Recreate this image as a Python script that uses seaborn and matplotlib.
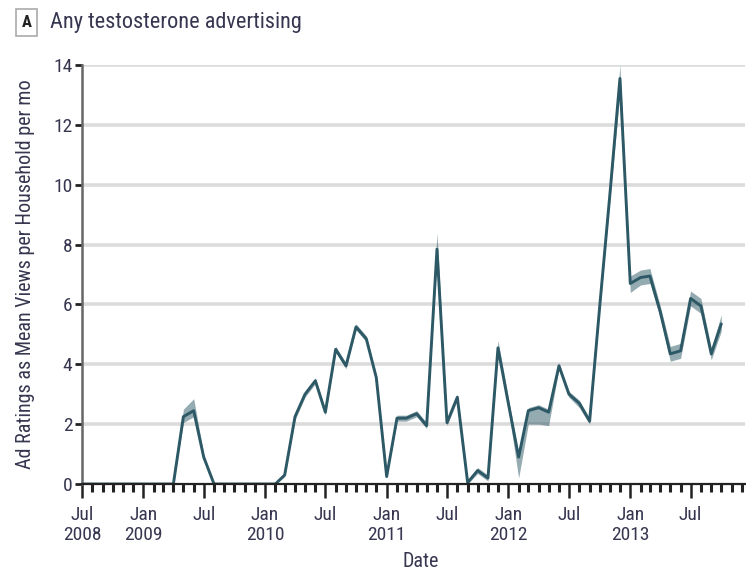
import numpy as np
import pandas as pd
import matplotlib
matplotlib.use("Agg")
import matplotlib.pyplot as plt
import matplotlib.dates as mdates
from matplotlib import font_manager
import seaborn as sns

# ---- data (monthly, Jul 2008 .. Oct 2013) ----
mean_views = [0, 0, 0, 0, 0, 0, 0, 0, 0, 0,
              2.25, 2.45, 0.9, 0, 0, 0, 0, 0, 0, 0,
              0.3, 2.25, 3.0, 3.45, 2.4, 4.5, 3.95, 5.25, 4.85, 3.55,
              0.25, 2.2, 2.2, 2.35, 1.95, 7.85, 2.05, 2.9, 0.05, 0.45,
              0.2, 4.55, 2.7, 0.9, 2.45, 2.55, 2.4, 3.95, 3.0, 2.7,
              2.1, 5.9, 9.7, 13.55, 6.7, 6.9, 6.95, 5.75, 4.35, 4.45,
              6.2, 5.95, 4.35, 5.35]
ci_lower = [0, 0, 0, 0, 0, 0, 0, 0, 0, 0,
            2.05, 2.25, 0.8, 0, 0, 0, 0, 0, 0, 0,
            0.25, 2.15, 2.9, 3.35, 2.3, 4.4, 3.85, 5.15, 4.75, 3.45,
            0.2, 2.1, 2.1, 2.25, 1.85, 7.55, 1.95, 2.8, 0.0, 0.35,
            0.1, 4.35, 2.5, 0.2, 2.0, 2.0, 1.95, 3.85, 2.9, 2.55,
            2.0, 5.75, 9.5, 13.1, 6.4, 6.65, 6.7, 5.55, 4.1, 4.2,
            5.95, 5.7, 4.15, 5.1]
ci_upper = [0, 0, 0, 0, 0, 0, 0, 0, 0, 0,
            2.5, 2.85, 1.0, 0, 0, 0, 0, 0, 0, 0,
            0.35, 2.35, 3.1, 3.55, 2.5, 4.6, 4.05, 5.35, 4.95, 3.65,
            0.3, 2.3, 2.3, 2.45, 2.05, 8.4, 2.15, 3.0, 0.1, 0.55,
            0.3, 4.8, 2.9, 1.0, 2.55, 2.65, 2.5, 4.05, 3.1, 2.8,
            2.2, 6.05, 9.9, 14.0, 6.95, 7.15, 7.2, 5.95, 4.6, 4.7,
            6.45, 6.2, 4.55, 5.65]
dates = pd.date_range("2008-07-01", periods=len(mean_views), freq="MS")
y_ticks = [0, 2, 4, 6, 8, 10, 12, 14]

title_text = "Any testosterone advertising"
panel_letter = "A"
y_label = "Ad Ratings as Mean Views per Household per mo"
x_label = "Date"

# long table: median of (lower, mean, upper) = mean, 100% interval = band
df = pd.DataFrame({
    "date": np.concatenate([dates, dates, dates]),
    "value": np.concatenate([ci_lower, mean_views, ci_upper]),
})

sns.set_theme(style="white")

# pick a condensed face if one is installed
names = {f.name for f in font_manager.fontManager.ttflist}
family = "DejaVu Sans"
for cand in ["Roboto Condensed", "Liberation Sans Narrow", "Open Sans Condensed",
             "Noto Sans Condensed"]:
    if cand in names:
        family = cand
        break
plt.rcParams["font.family"] = [family, "DejaVu Sans"]

text_color = "#363650"
line_color = "#2d5966"

fig = plt.figure(figsize=(7.46, 5.76), dpi=100)
ax = fig.add_axes([0.110, 0.1597, 0.889, 0.7274])

for t in y_ticks[1:]:
    ax.axhline(t, color="#dcdcdc", lw=2.6, zorder=0)

sns.lineplot(data=df, x="date", y="value", estimator="median",
             errorbar=("pi", 100), color=line_color, lw=2.1, ax=ax,
             err_kws={"alpha": 0.5, "lw": 0}, zorder=3)

ax.set_ylim(0, 14)
ax.set_xlim(pd.Timestamp("2008-07-01"), pd.Timestamp("2013-12-12"))
ax.set_yticks(y_ticks)
ax.set_yticklabels([str(t) for t in y_ticks])

ax.xaxis.set_major_locator(mdates.MonthLocator(bymonth=[1, 7]))
ax.xaxis.set_minor_locator(mdates.MonthLocator())


def fmt(x, pos):
    d = mdates.num2date(x)
    if d.month == 1:
        return f"Jan\n{d.year}"
    if d.year == 2008:
        return f"Jul\n{d.year}"
    return "Jul"


ax.xaxis.set_major_formatter(plt.FuncFormatter(fmt))

ax.tick_params(axis="x", which="major", bottom=True, length=10, width=1.8,
               color="#222222", pad=6, labelsize=14, labelcolor=text_color)
ax.tick_params(axis="x", which="minor", bottom=True, length=5.5, width=2.2,
               color="#222222")
ax.tick_params(axis="y", which="major", left=True, length=5, width=2.0,
               color="#222222", pad=2, labelsize=14, labelcolor=text_color)
for lab in ax.get_xticklabels():
    lab.set_linespacing(1.15)

for s in ["top", "right"]:
    ax.spines[s].set_visible(False)
ax.spines["left"].set_color("#666666")
ax.spines["left"].set_linewidth(1.8)
ax.spines["bottom"].set_color("#222222")
ax.spines["bottom"].set_linewidth(1.6)
ax.spines["bottom"].set_zorder(4)

ax.set_xlabel(x_label, fontsize=14.5, color=text_color)
ax.xaxis.set_label_coords(0.51, -0.163)
ax.set_ylabel(y_label, fontsize=14.5, color=text_color)
ax.yaxis.set_label_coords(-0.086, 0.5)
ax.yaxis.label.set_va("center")

fig.text(0.0355, 0.961, panel_letter, fontsize=12, fontweight="bold",
         color="#222222", ha="center", va="center",
         bbox=dict(boxstyle="square,pad=0.35", fc="white", ec="#aaaaaa", lw=1.2))
fig.text(0.067, 0.961, title_text, fontsize=16, color=text_color,
         ha="left", va="center")

fig.savefig("out.png", dpi=100)
